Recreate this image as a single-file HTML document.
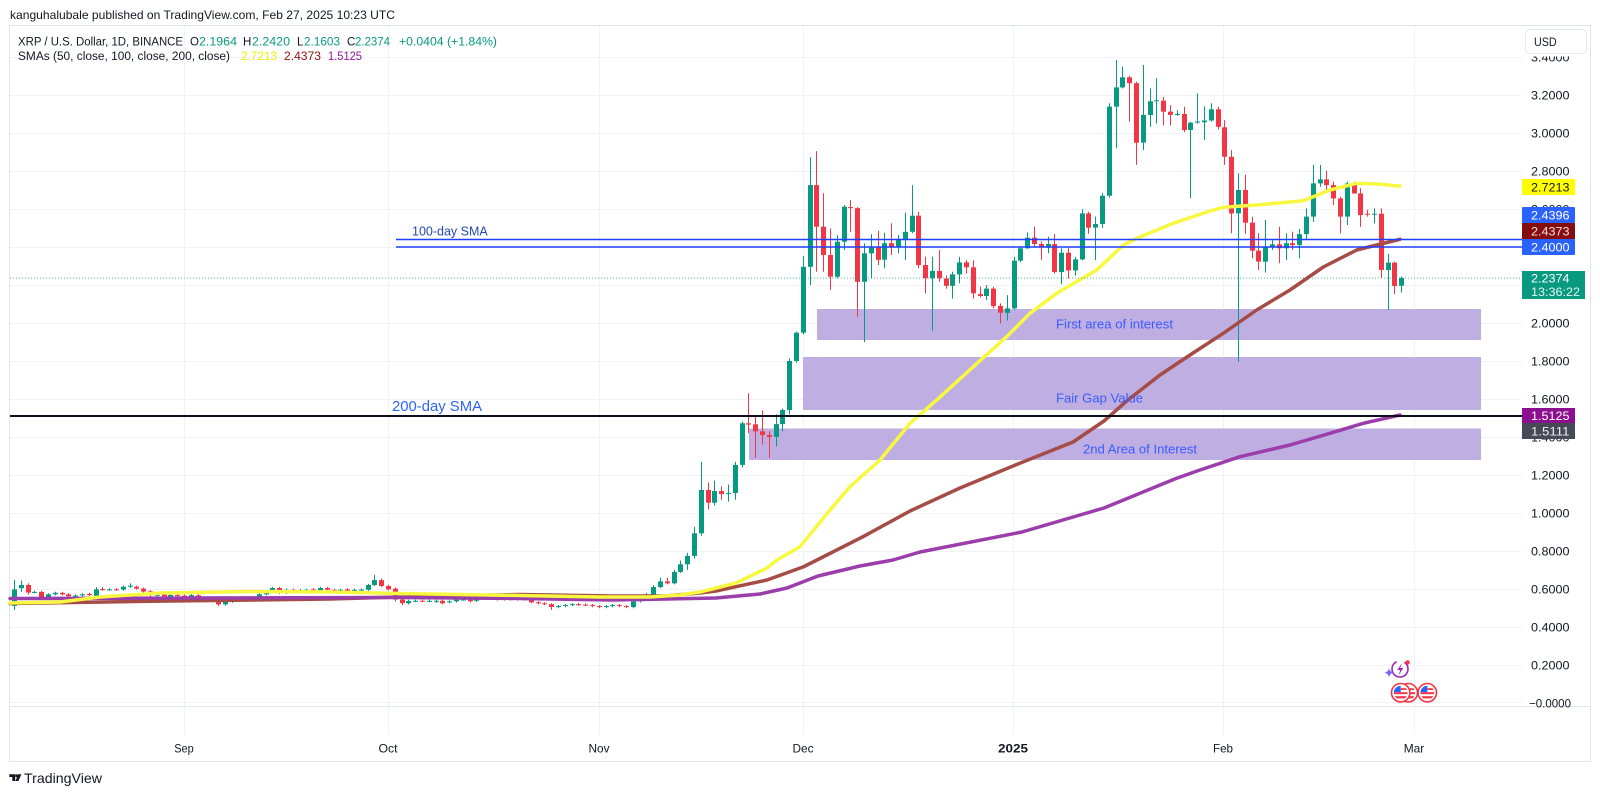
<!DOCTYPE html>
<html><head><meta charset="utf-8"><title>XRP chart</title>
<style>
html,body{margin:0;padding:0;background:#fff;width:1600px;height:795px;overflow:hidden}
svg{display:block;font-family:"Liberation Sans",Arial,sans-serif}
</style></head><body>
<svg id="c" width="1600" height="795" viewBox="0 0 1600 795" xmlns="http://www.w3.org/2000/svg">
<defs>
<clipPath id="fc"><circle cx="0" cy="0" r="6.9"/></clipPath>
<g id="fl">
 <circle r="9.2" fill="#fff" stroke="#f23645" stroke-width="1.6"/>
 <g clip-path="url(#fc)">
  <rect x="-7" y="-7" width="14" height="14" fill="#fff"/>
  <rect x="-7" y="-0.5" width="14" height="2" fill="#f23645"/>
  <rect x="-7" y="3.5" width="14" height="2.2" fill="#f23645"/>
  <rect x="0" y="-4.5" width="7" height="1.8" fill="#f23645"/>
  <rect x="-7" y="-7" width="7" height="6.5" fill="#2962ff"/>
 </g>
</g>
</defs>
<rect width="1600" height="795" fill="#fff"/>

<!-- header -->
<text x="10" y="19" font-size="12" fill="#131722" textLength="385" lengthAdjust="spacingAndGlyphs">kanguhalubale published on TradingView.com, Feb 27, 2025 10:23 UTC</text>

<!-- frame -->
<rect x="9.5" y="25.5" width="1581" height="736" fill="none" stroke="#e0e3eb"/>

<!-- grid -->
<g stroke="#f0f2f7" stroke-width="1">
<line x1="10" x2="1522" y1="57.5" y2="57.5"/>
<line x1="10" x2="1522" y1="95.5" y2="95.5"/>
<line x1="10" x2="1522" y1="133.5" y2="133.5"/>
<line x1="10" x2="1522" y1="171.5" y2="171.5"/>
<line x1="10" x2="1522" y1="209.5" y2="209.5"/>
<line x1="10" x2="1522" y1="247.5" y2="247.5"/>
<line x1="10" x2="1522" y1="285.5" y2="285.5"/>
<line x1="10" x2="1522" y1="323.5" y2="323.5"/>
<line x1="10" x2="1522" y1="361.5" y2="361.5"/>
<line x1="10" x2="1522" y1="399.5" y2="399.5"/>
<line x1="10" x2="1522" y1="437.5" y2="437.5"/>
<line x1="10" x2="1522" y1="475.5" y2="475.5"/>
<line x1="10" x2="1522" y1="513.5" y2="513.5"/>
<line x1="10" x2="1522" y1="551.5" y2="551.5"/>
<line x1="10" x2="1522" y1="589.5" y2="589.5"/>
<line x1="10" x2="1522" y1="627.5" y2="627.5"/>
<line x1="10" x2="1522" y1="665.5" y2="665.5"/>
<line x1="10" x2="1522" y1="702.5" y2="702.5"/>
<line x1="184.5" x2="184.5" y1="26" y2="735"/>
<line x1="388.5" x2="388.5" y1="26" y2="735"/>
<line x1="599.5" x2="599.5" y1="26" y2="735"/>
<line x1="803.5" x2="803.5" y1="26" y2="735"/>
<line x1="1013.5" x2="1013.5" y1="26" y2="735"/>
<line x1="1223.5" x2="1223.5" y1="26" y2="735"/>
<line x1="1414.5" x2="1414.5" y1="26" y2="735"/>
</g>
<line x1="10" y1="706.5" x2="1590" y2="706.5" stroke="#e3e5ec"/>

<!-- legend -->
<g font-size="11.5" fill="#131722">
<text x="18" y="45.5" textLength="165" lengthAdjust="spacingAndGlyphs">XRP / U.S. Dollar, 1D, BINANCE</text>
<text x="190" y="45.5">O</text>
<text x="199" y="45.5" fill="#089981" textLength="38" lengthAdjust="spacingAndGlyphs">2.1964</text>
<text x="243" y="45.5">H</text>
<text x="252" y="45.5" fill="#089981" textLength="38" lengthAdjust="spacingAndGlyphs">2.2420</text>
<text x="297" y="45.5">L</text>
<text x="304" y="45.5" fill="#089981" textLength="36" lengthAdjust="spacingAndGlyphs">2.1603</text>
<text x="347" y="45.5">C</text>
<text x="355" y="45.5" fill="#089981" textLength="35" lengthAdjust="spacingAndGlyphs">2.2374</text>
<text x="399" y="45.5" fill="#089981" textLength="98" lengthAdjust="spacingAndGlyphs">+0.0404 (+1.84%)</text>
<text x="18" y="60" textLength="212" lengthAdjust="spacingAndGlyphs">SMAs (50, close, 100, close, 200, close)</text>
<text x="241" y="60" fill="#f0f000" textLength="36" lengthAdjust="spacingAndGlyphs">2.7213</text>
<text x="284" y="60" fill="#8b1212" textLength="37" lengthAdjust="spacingAndGlyphs">2.4373</text>
<text x="328" y="60" fill="#8e1599" textLength="34" lengthAdjust="spacingAndGlyphs">1.5125</text>
</g>

<!-- zones -->
<rect x="817" y="309" width="664" height="31" fill="#bfaee2"/>
<rect x="803" y="357" width="678" height="53" fill="#bfaee2"/>
<rect x="749" y="428.5" width="732" height="31.5" fill="#bfaee2"/>

<!-- candles (generated) -->
<g id="cd"></g>

<!-- SMAs -->
<g fill="none" stroke-width="3.5" stroke-linejoin="round" stroke-linecap="round">
<path stroke="#a64c46" d="M10 603.5 L170 601 L330 599 L400 597 L520 594.5 L613 596 L665 596 L700 593 L716 591 L767 580 L803 567 L815 561 L863 536.7 L910 511 L960 488 L1013 466 L1073 442 L1104 421 L1126.7 401 L1160 375 L1190 355 L1223.3 333.3 L1256.7 310 L1290 290 L1323.3 267 L1356.7 250 L1376.7 245 L1400 239.3"/>
<path stroke="#9b3dab" d="M10 598.5 L200 598 L400 597.5 L520 598.5 L613 600 L716 598 L760 594 L787 588 L818 576 L860 566 L893 560 L920 552 L1022 532 L1104 508 L1176 478.5 L1200 470 L1240 456.7 L1290 445 L1330 433.3 L1363.3 423.3 L1400 415"/>
<path stroke="#f8f840" d="M10 603 L60 602 L100 597 L160 593 L250 591.5 L330 592 L400 593.5 L520 595.5 L600 597 L650 597 L680 595 L700 592 L736 583 L767 568 L777 560 L800 546.7 L830 510 L850 486.7 L880 460 L910 423.3 L936.7 400 L973.3 366.7 L1006.7 336.7 L1030 313.3 L1056.7 293.3 L1096.7 270 L1123.3 245 L1136.7 238.3 L1173.3 223.3 L1206.7 212 L1223.3 207.3 L1256.7 205 L1303.3 200.7 L1330 190 L1356.7 183.3 L1376.7 184 L1400 186"/>
</g>

<!-- horizontal lines -->
<line x1="396" y1="239.5" x2="1522" y2="239.5" stroke="#1f3fff" stroke-width="1.5"/>
<line x1="396" y1="247" x2="1522" y2="247" stroke="#1f3fff" stroke-width="1.5"/>
<line x1="10" y1="416" x2="1522" y2="416" stroke="#0d0f1f" stroke-width="2"/>
<line x1="10" y1="278" x2="1522" y2="278" stroke="#089981" stroke-opacity="0.7" stroke-width="1" stroke-dasharray="1 2"/>

<!-- annotations -->
<text x="412" y="235.5" font-size="12.5" fill="#2447b5">100-day SMA</text>
<text x="392" y="411" font-size="15" fill="#2962ff" textLength="90" lengthAdjust="spacingAndGlyphs">200-day SMA</text>
<g font-size="13" fill="#3a5cff">
<text x="1056" y="328.5" textLength="117" lengthAdjust="spacingAndGlyphs">First area of interest</text>
<text x="1056" y="402.5" textLength="87" lengthAdjust="spacingAndGlyphs">Fair Gap Value</text>
<text x="1083" y="453.5" textLength="114" lengthAdjust="spacingAndGlyphs">2nd Area of Interest</text>
</g>

<!-- event icons -->
<circle cx="1400" cy="669" r="8" fill="#fff" stroke="#9c27b0" stroke-width="1.6" stroke-dasharray="34 8"/>
<path d="M1402 663 L1397.3 670 H1400.3 L1398.5 675.5 L1403.3 668 H1400.2 Z" fill="#9c27b0"/>
<circle cx="1407.6" cy="662.4" r="2.2" fill="#f23645"/>
<path d="M1389 668 Q1389.6 672 1393.4 672.7 Q1389.6 673.4 1389 677.4 Q1388.4 673.4 1384.6 672.7 Q1388.4 672 1389 668Z" fill="#7b5cff"/>
<use href="#fl" x="1427.3" y="692.7"/>
<use href="#fl" x="1408.3" y="692.7"/>
<use href="#fl" x="1400.7" y="692.7"/>

<!-- price axis -->
<g font-size="12" fill="#131722">
<text x="1531" y="61.5" textLength="38.5" lengthAdjust="spacingAndGlyphs">3.4000</text>
<text x="1531" y="99.5" textLength="38.5" lengthAdjust="spacingAndGlyphs">3.2000</text>
<text x="1531" y="137.5" textLength="38.5" lengthAdjust="spacingAndGlyphs">3.0000</text>
<text x="1531" y="175.5" textLength="38.5" lengthAdjust="spacingAndGlyphs">2.8000</text>
<text x="1531" y="213.5" textLength="38.5" lengthAdjust="spacingAndGlyphs">2.6000</text>
<text x="1531" y="251.5" textLength="38.5" lengthAdjust="spacingAndGlyphs">2.4000</text>
<text x="1531" y="289.5" textLength="38.5" lengthAdjust="spacingAndGlyphs">2.2000</text>
<text x="1531" y="327.5" textLength="38.5" lengthAdjust="spacingAndGlyphs">2.0000</text>
<text x="1531" y="365.5" textLength="38.5" lengthAdjust="spacingAndGlyphs">1.8000</text>
<text x="1531" y="403.5" textLength="38.5" lengthAdjust="spacingAndGlyphs">1.6000</text>
<text x="1531" y="441.5" textLength="38.5" lengthAdjust="spacingAndGlyphs">1.4000</text>
<text x="1531" y="479.5" textLength="38.5" lengthAdjust="spacingAndGlyphs">1.2000</text>
<text x="1531" y="517.5" textLength="38.5" lengthAdjust="spacingAndGlyphs">1.0000</text>
<text x="1531" y="555.5" textLength="38.5" lengthAdjust="spacingAndGlyphs">0.8000</text>
<text x="1531" y="593.5" textLength="38.5" lengthAdjust="spacingAndGlyphs">0.6000</text>
<text x="1531" y="631.5" textLength="38.5" lengthAdjust="spacingAndGlyphs">0.4000</text>
<text x="1531" y="669.5" textLength="38.5" lengthAdjust="spacingAndGlyphs">0.2000</text>
<text x="1529" y="707.5" textLength="42" lengthAdjust="spacingAndGlyphs">−0.0000</text>
</g>
<rect x="1523" y="26" width="67" height="30.5" fill="#fff"/>
<rect x="1525.5" y="29.5" width="61" height="24" rx="4" fill="#fff" stroke="#e6e8ee"/>
<text x="1534" y="46" font-size="11.5" fill="#131722" textLength="22.7" lengthAdjust="spacingAndGlyphs">USD</text>

<!-- axis value boxes -->
<rect x="1522" y="179" width="53" height="16" fill="#ffff00"/>
<text x="1531" y="191.3" font-size="12" fill="#131722" textLength="38.5" lengthAdjust="spacingAndGlyphs">2.7213</text>
<rect x="1522" y="207" width="53" height="16" rx="1" fill="#2962ff"/>
<text x="1531" y="219.3" font-size="12" fill="#fff" textLength="38.5" lengthAdjust="spacingAndGlyphs">2.4396</text>
<rect x="1522" y="223" width="53" height="16" fill="#860d0d"/>
<text x="1531" y="235.3" font-size="12" fill="#f6dede" textLength="38.5" lengthAdjust="spacingAndGlyphs">2.4373</text>
<rect x="1522" y="239" width="53" height="16" rx="1" fill="#2962ff"/>
<text x="1531" y="251.3" font-size="12" fill="#fff" textLength="38.5" lengthAdjust="spacingAndGlyphs">2.4000</text>
<rect x="1522" y="271" width="63" height="28" fill="#089981"/>
<text x="1531" y="282.5" font-size="12" fill="#fff" textLength="38.5" lengthAdjust="spacingAndGlyphs">2.2374</text>
<text x="1531" y="296" font-size="12" fill="#e6f5f2" textLength="49" lengthAdjust="spacingAndGlyphs">13:36:22</text>
<rect x="1522" y="408" width="53" height="15" fill="#8b0f8e"/>
<text x="1531" y="419.8" font-size="12" fill="#fff" textLength="38.5" lengthAdjust="spacingAndGlyphs">1.5125</text>
<rect x="1522" y="423" width="53" height="16" fill="#464a57"/>
<text x="1531" y="435.3" font-size="12" fill="#f0f0f0" textLength="38.5" lengthAdjust="spacingAndGlyphs">1.5111</text>

<!-- time axis -->
<g font-size="12" fill="#131722" text-anchor="middle">
<text x="184" y="752.5" textLength="19.5" lengthAdjust="spacingAndGlyphs">Sep</text>
<text x="388" y="752.5" textLength="19" lengthAdjust="spacingAndGlyphs">Oct</text>
<text x="599" y="752.5" textLength="21" lengthAdjust="spacingAndGlyphs">Nov</text>
<text x="803" y="752.5" textLength="21" lengthAdjust="spacingAndGlyphs">Dec</text>
<text x="1013" y="752.5" font-weight="bold" textLength="30" lengthAdjust="spacingAndGlyphs">2025</text>
<text x="1223" y="752.5" textLength="20" lengthAdjust="spacingAndGlyphs">Feb</text>
<text x="1414" y="752.5" textLength="20.5" lengthAdjust="spacingAndGlyphs">Mar</text>
</g>

<!-- TradingView logo -->
<path d="M9.3 774.3 H15.2 V781 H12.3 V777 H9.3 Z" fill="#131722"/>
<circle cx="16.6" cy="775.7" r="1.4" fill="#131722"/>
<path d="M18.2 774.3 H21.4 L18.4 781 H15.4 Z" fill="#131722"/>
<text x="24" y="783" font-size="14" fill="#131722" textLength="78" lengthAdjust="spacingAndGlyphs">TradingView</text>
</svg>
<script>
(function(){
var D=[
[.511,.598,.647,.49],[.604,.621,.645,.585],[.621,.581,.63,.57],[.583,.585,0,0],[.585,.554,.59,.548],
[.554,.572,.578,.55],[.572,.58,0,0],[.58,.572,0,0],[.572,.562,0,0],[.562,.566,0,0],
[.566,.572,0,0],[.574,.568,.58,0],[.563,.598,.61,0],[.6,.596,.61,0],[.597,.598,0,0],
[.598,.597,.605,0],[.597,.612,0,0],[.612,.618,.63,0],[.612,.602,0,0],[.602,.586,0,0],
[.588,.567,0,.55],[.568,.57,0,0],[.572,.561,0,0],[.557,.569,0,.55],[.569,.568,0,0],
[.565,.549,0,0],[.549,.568,0,0],[.567,.556,0,0],[.552,.545,0,0],[.552,.54,0,0],
[.542,.519,0,.51],[.519,.533,0,0],[.533,.542,0,0],[.542,.549,0,0],[.549,.556,0,0],
[.556,.544,0,0],[.544,.572,.595,0],[.572,.584,0,0],[.584,.605,0,0],[.605,.579,0,0],
[.579,.596,0,0],[.596,.594,0,0],[.594,.595,0,0],[.595,.596,0,0],[.598,.593,0,0],
[.593,.605,.612,0],[.605,.596,0,0],[.596,.595,0,0],[.589,.596,0,0],[.598,.587,0,0],
[.589,.596,0,0],[.596,.597,0,0],[.596,.621,0,0],[.621,.647,.675,0],[.647,.616,.655,0],
[.616,.598,0,0],[.602,.544,0,.535],[.544,.525,0,.515],[.525,.537,0,0],[.537,.538,0,0],
[.538,.537,0,0],[.537,.538,0,0],[.533,.538,0,0],[.538,.525,0,0],[.53,.535,0,0],
[.535,.544,0,0],[.544,.545,0,0],[.544,.535,0,0],[.538,.551,0,0],[.551,.548,0,0],
[.548,.55,0,0],[.55,.545,0,0],[.545,.548,0,0],[.548,.545,0,0],[.545,.55,0,0],
[.55,.545,0,0],[.545,.53,0,0],[.53,.525,0,0],[.525,.52,0,0],[.52,.505,0,.49],
[.505,.51,0,0],[.51,.515,0,0],[.515,.52,0,0],[.52,.518,0,0],[.518,.515,0,0],
[.515,.51,0,0],[.51,.505,0,0],[.505,.51,0,0],[.51,.515,0,0],[.515,.51,0,0],
[.51,.505,0,0],[.505,.535,0,0],[.535,.555,0,0],[.555,.565,.58,0],[.565,.61,.62,0],
[.61,.64,.66,0],[.64,.63,.66,0],[.63,.69,.70,0],[.69,.73,.75,0],[.73,.774,.79,.70],
[.774,.893,.928,.76],[.893,1.121,1.27,.88],[1.121,1.054,1.16,1.02],[1.054,1.115,1.17,1.04],[1.115,1.10,1.14,1.07],
[1.10,1.105,1.15,1.06],[1.105,1.253,1.27,1.07],[1.253,1.472,1.48,1.24],[1.472,1.465,1.63,1.42],[1.467,1.43,1.51,1.29],
[1.43,1.41,1.54,1.36],[1.41,1.40,1.43,1.29],[1.40,1.468,1.52,1.35],[1.468,1.542,1.55,1.43],[1.542,1.80,1.813,1.52],
[1.80,1.949,1.955,1.79],[1.949,2.296,2.352,1.94],[2.296,2.726,2.872,2.20],[2.726,2.507,2.905,2.27],[2.507,2.358,2.682,2.27],
[2.358,2.244,2.498,2.174],[2.244,2.428,2.463,2.235],[2.428,2.612,2.621,2.384],[2.61,2.605,2.647,2.48],[2.605,2.217,2.61,2.033],
[2.217,2.367,2.419,1.90],[2.367,2.397,2.468,2.235],[2.397,2.333,2.486,2.305],[2.333,2.42,2.476,2.288],[2.42,2.40,2.525,2.358],
[2.40,2.44,2.463,2.367],[2.44,2.48,2.58,2.332],[2.48,2.565,2.726,2.472],[2.565,2.305,2.586,2.288],[2.305,2.235,2.349,2.156],
[2.235,2.274,2.349,1.96],[2.274,2.235,2.384,2.217],[2.235,2.196,2.25,2.18],[2.196,2.256,2.27,2.129],[2.256,2.319,2.349,2.209],
[2.319,2.293,2.331,2.26],[2.293,2.156,2.331,2.129],[2.152,2.142,2.191,2.135],[2.142,2.181,2.2,2.121],[2.181,2.089,2.191,2.077],
[2.09,2.054,2.103,1.998],[2.054,2.077,2.147,2.013],[2.077,2.328,2.349,2.07],[2.328,2.393,2.405,2.32],[2.393,2.449,2.477,2.39],
[2.449,2.416,2.507,2.40],[2.416,2.398,2.43,2.332],[2.398,2.416,2.454,2.367],[2.416,2.268,2.468,2.26],[2.268,2.37,2.393,2.205],
[2.37,2.277,2.393,2.234],[2.277,2.335,2.349,2.25],[2.335,2.577,2.6,2.33],[2.577,2.502,2.586,2.47],[2.502,2.521,2.56,2.331],
[2.521,2.67,2.686,2.5],[2.67,3.139,3.157,2.66],[3.139,3.24,3.384,2.92],[3.24,3.293,3.349,3.235],[3.293,3.262,3.3,3.06],
[3.262,2.949,3.27,2.832],[2.949,3.095,3.358,2.91],[3.095,3.167,3.235,3.033],[3.168,3.172,3.288,3.05],[3.17,3.112,3.19,3.04],
[3.112,3.095,3.147,3.04],[3.095,3.10,3.12,3.09],[3.10,3.016,3.138,3.005],[3.016,3.054,3.06,2.656],[3.055,3.06,3.209,3.05],
[3.057,3.066,3.14,2.963],[3.066,3.125,3.157,3.06],[3.125,3.033,3.138,3.02],[3.03,2.875,3.068,2.832],[2.875,2.577,2.91,2.472],
[2.577,2.70,2.788,1.796],[2.70,2.528,2.78,2.47],[2.528,2.381,2.56,2.34],[2.381,2.323,2.472,2.279],[2.323,2.398,2.542,2.265],
[2.398,2.414,2.435,2.384],[2.414,2.393,2.507,2.314],[2.393,2.42,2.472,2.332],[2.42,2.41,2.481,2.384],[2.41,2.468,2.495,2.34],
[2.468,2.56,2.603,2.437],[2.56,2.735,2.832,2.533],[2.735,2.756,2.832,2.717],[2.756,2.726,2.801,2.691],[2.726,2.656,2.744,2.621],
[2.656,2.56,2.665,2.472],[2.56,2.735,2.744,2.516],[2.735,2.682,2.744,2.68],[2.682,2.568,2.709,2.507],[2.575,2.572,2.595,2.56],
[2.57,2.575,2.603,2.525],[2.575,2.279,2.603,2.235],[2.279,2.318,2.363,2.068],[2.318,2.195,2.323,2.152],[2.196,2.237,2.245,2.16]
];
var NS='http://www.w3.org/2000/svg';
var g=document.getElementById('cd');
function Y(v){return 703-190*v;}
for(var i=0;i<D.length;i++){
 var c=D[i],o=c[0],cl=c[1],h=c[2],l=c[3];
 var x=184+6.8*(i-25);
 var hi=Math.max(o,cl),lo=Math.min(o,cl);
 if(!h)h=hi+0.006; if(!l)l=lo-0.006;
 var col=cl>=o?'#089981':'#f23645';
 var xi=Math.round(x);
 var w=document.createElementNS(NS,'line');
 w.setAttribute('x1',xi+0.5);w.setAttribute('x2',xi+0.5);
 w.setAttribute('y1',Y(h).toFixed(1));w.setAttribute('y2',Y(l).toFixed(1));
 w.setAttribute('stroke',col);w.setAttribute('stroke-width','1');
 g.appendChild(w);
 var yt=Y(hi),yb=Y(lo);
 var r=document.createElementNS(NS,'rect');
 r.setAttribute('x',xi-2);r.setAttribute('width',5);
 r.setAttribute('y',yt.toFixed(1));r.setAttribute('height',Math.max(1,yb-yt).toFixed(1));
 r.setAttribute('fill',col);
 g.appendChild(r);
}
})();
</script>
</body></html>
